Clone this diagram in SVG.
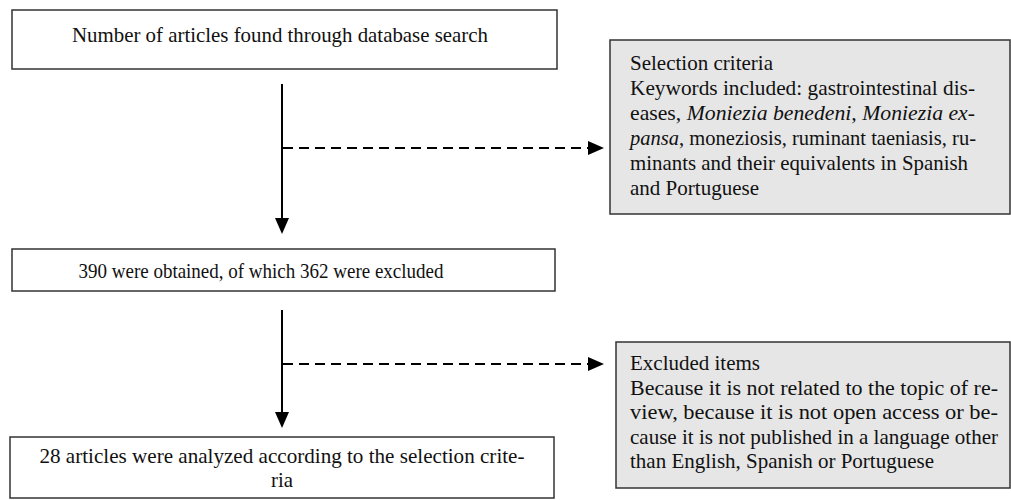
<svg xmlns="http://www.w3.org/2000/svg" width="1011" height="500" viewBox="0 0 1011 500">
<style>
.box{fill:#ffffff;stroke:#333333;stroke-width:1.5}
.gbox{fill:#e6e6e6;stroke:#333333;stroke-width:1.5}
.t{font-family:"Liberation Serif","Times New Roman",serif;font-size:21.5px;fill:#111111}
.c{text-anchor:middle}
.solid{stroke:#000000;stroke-width:2;fill:none}
.dash{stroke:#000000;stroke-width:2;fill:none;stroke-dasharray:10 6}
</style>
<defs>
<marker id="ah" viewBox="0 0 16 14" refX="8" refY="7" markerWidth="16" markerHeight="14" markerUnits="userSpaceOnUse" orient="auto">
<path d="M0,0 L16,7 L0,14 z" fill="#000000"/>
</marker>
</defs>
<rect width="1011" height="500" fill="#ffffff"/>
<g id="connectors">
<line class="solid" x1="282" y1="84" x2="282" y2="226" marker-end="url(#ah)"/>
<line class="dash" x1="283" y1="148" x2="596" y2="148" marker-end="url(#ah)"/>
<line class="solid" x1="282" y1="310" x2="282" y2="420" marker-end="url(#ah)"/>
<line class="dash" x1="283" y1="364" x2="596" y2="364" marker-end="url(#ah)"/>
</g>
<g id="node-search">
<rect class="box" x="12" y="10" width="545" height="59"/>
<text class="t c" x="280" y="42" textLength="416" lengthAdjust="spacingAndGlyphs">Number of articles found through database search</text>
</g>
<g id="node-criteria">
<rect class="gbox" x="610" y="40" width="400" height="174"/>
<text class="t" x="630" y="70" textLength="143" lengthAdjust="spacingAndGlyphs">Selection criteria</text>
<text class="t" x="630" y="95" textLength="345" lengthAdjust="spacingAndGlyphs">Keywords included: gastrointestinal dis-</text>
<text class="t" x="630" y="120" textLength="345" lengthAdjust="spacingAndGlyphs">eases, <tspan font-style="italic">Moniezia benedeni, Moniezia ex-</tspan></text>
<text class="t" x="630" y="145" textLength="346" lengthAdjust="spacingAndGlyphs"><tspan font-style="italic">pansa</tspan>, moneziosis, ruminant taeniasis, ru-</text>
<text class="t" x="630" y="170" textLength="338" lengthAdjust="spacingAndGlyphs">minants and their equivalents in Spanish</text>
<text class="t" x="630" y="195" textLength="129" lengthAdjust="spacingAndGlyphs">and Portuguese</text>
</g>
<g id="node-obtained">
<rect class="box" x="12" y="249" width="543" height="42"/>
<text class="t c" x="261" y="278" textLength="365" lengthAdjust="spacingAndGlyphs">390 were obtained, of which 362 were excluded</text>
</g>
<g id="node-excluded">
<rect class="gbox" x="616" y="342" width="394" height="146"/>
<text class="t" x="630" y="370" textLength="130" lengthAdjust="spacingAndGlyphs">Excluded items</text>
<text class="t" x="630" y="394.5" textLength="368" lengthAdjust="spacingAndGlyphs">Because it is not related to the topic of re-</text>
<text class="t" x="630" y="419" textLength="368" lengthAdjust="spacingAndGlyphs">view, because it is not open access or be-</text>
<text class="t" x="630" y="443.5" textLength="368" lengthAdjust="spacingAndGlyphs">cause it is not published in a language other</text>
<text class="t" x="630" y="468" textLength="304" lengthAdjust="spacingAndGlyphs">than English, Spanish or Portuguese</text>
</g>
<g id="node-analyzed">
<rect class="box" x="10" y="437" width="544" height="61"/>
<text class="t c" x="282" y="463" textLength="485" lengthAdjust="spacingAndGlyphs">28 articles were analyzed according to the selection crite-</text>
<text class="t c" x="282" y="487" textLength="22" lengthAdjust="spacingAndGlyphs">ria</text>
</g>
</svg>
